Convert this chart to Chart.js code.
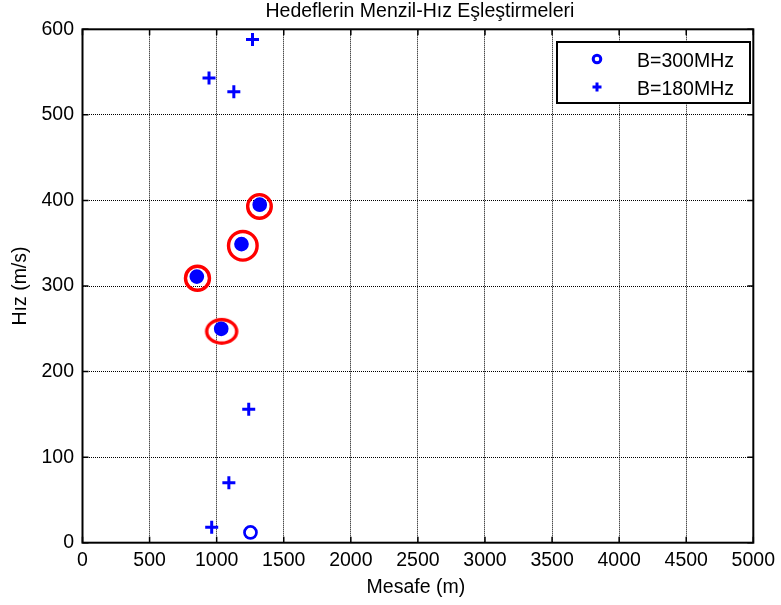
<!DOCTYPE html>
<html>
<head>
<meta charset="utf-8">
<title>Hedeflerin Menzil-Hız Eşleştirmeleri</title>
<script src="https://cdn.jsdelivr.net/npm/chart.js@4.4.0/dist/chart.umd.min.js"></script>
<style>
  html, body { margin: 0; padding: 0; background: #fff; }
  #kutu { width: 781px; height: 605px; }
</style>
</head>
<body>
<div id="kutu"><canvas id="grafik" width="781" height="605"></canvas></div>
<script>
var baslik = "Hedeflerin Menzil-Hız Eşleştirmeleri";
var xEtiket = "Mesafe (m)";
var yEtiket = "Hız (m/s)";
var seriIsimleri = ["B=300MHz", "B=180MHz"];

var mesafe300 = [1252, 1034, 852, 1185, 1321];
var hiz300 = [12, 250, 311, 349, 395];

var mesafe180 = [963, 1091, 1239, 1034, 852, 1185, 1321, 943, 1128, 1267];
var hiz180 = [18, 70, 156, 250, 311, 349, 395, 543, 527, 588];

// kirmizi halka ile isaretlenen eslesmeler
var mesafeEslesme = [1319, 1195, 857, 1037];
var hizEslesme = [393, 347, 309, 247];

var xTikler = [0, 500, 1000, 1500, 2000, 2500, 3000, 3500, 4000, 4500, 5000];
var yTikler = [0, 100, 200, 300, 400, 500, 600];

var MAVI = '#0000ff';
var KIRMIZI = '#ff0000';
var YAZI = '"Liberation Sans", Arial, Helvetica, sans-serif';

function Noktalar(xs, ys) {
    return xs.map(function (x, i) { return { x: x, y: ys[i] }; });
}

// son halka biraz basik (elips) cizilmis
function ElipsResmi(rx, ry, kalinlik) {
    var c = document.createElement('canvas');
    c.width = Math.ceil(2 * rx + kalinlik + 2);
    c.height = Math.ceil(2 * ry + kalinlik + 2);
    var g = c.getContext('2d');
    g.strokeStyle = KIRMIZI;
    g.lineWidth = kalinlik;
    g.beginPath();
    g.ellipse(c.width / 2, c.height / 2, rx, ry, 0, 0, Math.PI * 2);
    g.stroke();
    return c;
}

var cerceve = {
    id: 'cerceve',
    afterDraw: function (chart) {
        var ctx = chart.ctx, a = chart.chartArea;
        var sx = chart.scales.x, sy = chart.scales.y;
        ctx.save();

        // eksen kutusu ve ice bakan tikler
        ctx.strokeStyle = '#000';
        ctx.lineWidth = 2;
        ctx.strokeRect(a.left, a.top, a.right - a.left, a.bottom - a.top);
        ctx.lineWidth = 1.5;
        ctx.beginPath();
        xTikler.forEach(function (v) {
            var px = sx.getPixelForValue(v);
            ctx.moveTo(px, a.bottom); ctx.lineTo(px, a.bottom - 6);
            ctx.moveTo(px, a.top); ctx.lineTo(px, a.top + 6);
        });
        yTikler.forEach(function (v) {
            var py = sy.getPixelForValue(v);
            ctx.moveTo(a.left, py); ctx.lineTo(a.left + 6, py);
            ctx.moveTo(a.right, py); ctx.lineTo(a.right - 6, py);
        });
        ctx.stroke();

        // baslik ve eksen yazilari
        ctx.fillStyle = '#000';
        ctx.font = '19.5px ' + YAZI;
        ctx.textAlign = 'center';
        ctx.textBaseline = 'alphabetic';
        ctx.fillText(baslik, (a.left + a.right) / 2 + 2, 17);
        ctx.fillText(xEtiket, (a.left + a.right) / 2 - 2, 593);
        ctx.save();
        ctx.translate(26, (a.top + a.bottom) / 2);
        ctx.rotate(-Math.PI / 2);
        ctx.fillText(yEtiket, 0, 0);
        ctx.restore();

        // lejant
        ctx.fillStyle = '#fff';
        ctx.fillRect(557, 42, 193, 61);
        ctx.lineWidth = 2;
        ctx.strokeStyle = '#000';
        ctx.strokeRect(557, 42, 193, 61);
        ctx.strokeStyle = MAVI;
        ctx.lineWidth = 3;
        ctx.beginPath();
        ctx.arc(597, 59, 3.8, 0, Math.PI * 2);
        ctx.stroke();
        ctx.beginPath();
        ctx.moveTo(592.5, 87); ctx.lineTo(601.5, 87);
        ctx.moveTo(597, 82.5); ctx.lineTo(597, 91.5);
        ctx.stroke();
        ctx.fillStyle = '#000';
        ctx.textAlign = 'left';
        ctx.fillText(seriIsimleri[0], 637, 67);
        ctx.fillText(seriIsimleri[1], 637, 95);

        ctx.restore();
    }
};

function Yaz(v) { return String(v); }

var ctx = document.getElementById('grafik').getContext('2d');

var grafik = new Chart(ctx, {
    type: 'scatter',
    data: {
        datasets: [{
            label: seriIsimleri[1],
            data: Noktalar(mesafe180, hiz180),
            pointStyle: 'cross',
            pointRadius: 6.5,
            pointBorderWidth: 3,
            borderColor: MAVI,
            backgroundColor: MAVI
        }, {
            label: seriIsimleri[0],
            data: Noktalar(mesafe300, hiz300),
            pointStyle: 'circle',
            pointRadius: 6,
            pointBorderWidth: 2.7,
            borderColor: MAVI,
            backgroundColor: ['rgba(0,0,0,0)', MAVI, MAVI, MAVI, MAVI]
        }, {
            label: 'eslesme',
            data: Noktalar(mesafeEslesme, hizEslesme),
            pointStyle: ['circle', 'circle', 'circle', ElipsResmi(15, 11.7, 3.4)],
            pointRadius: [11.8, 14.3, 12, 12],
            pointBorderWidth: 3.4,
            borderColor: KIRMIZI,
            backgroundColor: 'rgba(0,0,0,0)'
        }]
    },
    options: {
        responsive: false,
        animation: false,
        events: [],
        layout: { padding: { top: 29.3, right: 23, left: 0, bottom: 0 } },
        plugins: {
            legend: { display: false },
            tooltip: { enabled: false },
            title: { display: false }
        },
        scales: {
            x: {
                type: 'linear',
                min: xTikler[0],
                max: xTikler[xTikler.length - 1],
                afterBuildTicks: function (s) { s.ticks = xTikler.map(function (v) { return { value: v }; }); },
                afterFit: function (s) { s.height = 62.3; },
                grid: { color: '#000', lineWidth: 1, drawTicks: false },
                border: { display: false, dash: [1, 1] },
                ticks: { color: '#000', padding: 6, maxRotation: 0, autoSkip: false, callback: Yaz, font: { family: YAZI, size: 19.5 } }
            },
            y: {
                type: 'linear',
                min: yTikler[0],
                max: yTikler[yTikler.length - 1],
                afterBuildTicks: function (s) { s.ticks = yTikler.map(function (v) { return { value: v }; }); },
                afterFit: function (s) { s.width = 82.5; },
                grid: { color: '#000', lineWidth: 1, drawTicks: false },
                border: { display: false, dash: [1, 1] },
                ticks: { color: '#000', padding: 8.5, autoSkip: false, callback: Yaz, font: { family: YAZI, size: 19.5 } }
            }
        }
    },
    plugins: [cerceve]
});
</script>
</body>
</html>
